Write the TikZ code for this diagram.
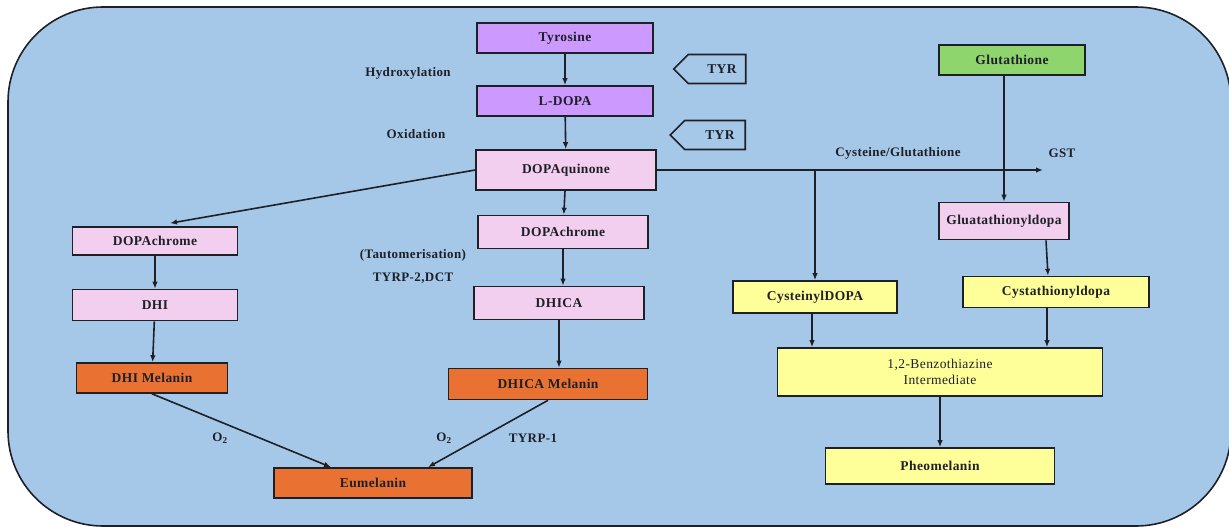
\documentclass[tikz,border=0pt]{standalone}
\usepackage{fontspec}
\setmainfont{Liberation Serif}[LetterSpace=3]
\usetikzlibrary{calc,arrows.meta,shapes.symbols}
\usetikzlibrary{positioning}

\definecolor{bgblue}{RGB}{166,200,232}
\definecolor{boxpurple}{RGB}{204,153,255}
\definecolor{boxpink}{RGB}{242,206,239}
\definecolor{boxorange}{RGB}{233,113,50}
\definecolor{boxgreen}{RGB}{142,213,110}
\definecolor{boxyellow}{RGB}{255,255,153}
\definecolor{inkdark}{RGB}{30,32,40}

\begin{document}
\begin{tikzpicture}[x=1pt,y=-1pt,
    basebox/.style={rectangle, draw=inkdark, line width=1.6pt, text=inkdark, font=\fontsize{13.5}{15}\selectfont\bfseries, inner sep=0pt},
    purplenode/.style={basebox, fill=boxpurple},
    pinknode/.style={basebox, fill=boxpink},
    orangenode/.style={basebox, fill=boxorange},
    greennode/.style={basebox, fill=boxgreen},
    yellownode/.style={basebox, fill=boxyellow},
    tyrnode/.style={signal, signal to=west, signal pointer angle=90, draw=inkdark, line width=1.6pt, fill=bgblue, text=inkdark, font=\fontsize{13.5}{15}\selectfont\bfseries, minimum width=72pt, minimum height=29pt, inner sep=0pt},
    steptext/.style={text=inkdark, font=\fontsize{13}{15}\selectfont\bfseries, inner sep=1pt},
    flow/.style={-{Latex[length=7pt,width=5.5pt]}, line width=1.6pt, draw=inkdark}]
            \useasboundingbox (0,0) rectangle (1229,527);
            \clip (0,0) rectangle (1229,527);
            \fill[bgblue, draw=inkdark, line width=1.6pt, rounded corners=95pt] (8,7) rectangle (1231,526);
            % tyrosine -> dopaquinone
            \node[purplenode, minimum width=176pt, minimum height=30pt] (tyrosine)    at (565,38)  {Tyrosine};
            \node[purplenode, minimum width=176pt, minimum height=30pt] (ldopa)       at (565,101) {L-DOPA};
            \node[pinknode,   minimum width=180pt, minimum height=40pt] (dopaquinone) at (566,170) {DOPAquinone};
            \node[tyrnode] (tyrA) at (717,69)  {\hspace{10pt}TYR};
            \node[tyrnode, minimum width=75pt] (tyrB) at (715,135) {\hspace{10pt}TYR};
            \node[steptext] (hydrox) at (408,73)  {Hydroxylation};
            \node[steptext] (oxid)   at (416,134) {Oxidation};
            % DHI branch
            \node[pinknode,   minimum width=165pt, minimum height=28pt] (dopachromeL) at (155,241) {DOPAchrome};
            \node[pinknode,   minimum width=165pt, minimum height=31pt] (dhi)         at (155,305) {DHI};
            \node[orangenode, minimum width=151pt, minimum height=30pt] (dhimelanin)  at (152,378) {DHI Melanin};
            \node[orangenode, minimum width=198pt, minimum height=30pt] (eumelanin)   at (373,483) {Eumelanin};
            % DHICA branch
            \node[pinknode,   minimum width=170pt, minimum height=33pt] (dopachromeM) at (563,232) {DOPAchrome};
            \node[pinknode,   minimum width=170pt, minimum height=33pt] (dhica)       at (559,303) {DHICA};
            \node[orangenode, minimum width=199pt, minimum height=31pt] (dhicamelanin) at (548,384) {DHICA Melanin};
            \node[steptext] (tauto) at (413,255) {(Tautomerisation)};
            \node[steptext] (tyrptwo) at (413,278) {TYRP-2,DCT};
            \node[steptext] (oxleft) at (220,438) {O\textsubscript{2}};
            \node[steptext] (oxmid)  at (444,438) {O\textsubscript{2}};
            \node[steptext] (tyrpone) at (533,438) {TYRP-1};
            % pheomelanin side
            \node[greennode,  minimum width=146pt, minimum height=30pt] (glutathione)  at (1012,60)  {Glutathione};
            \node[pinknode,   minimum width=130pt, minimum height=37pt] (gluatathionyl) at (1004,221) {Gluatathionyldopa};
            \node[yellownode, minimum width=164pt, minimum height=32pt] (cysteinyl)    at (815,297)  {CysteinylDOPA};
            \node[yellownode, minimum width=186pt, minimum height=31pt] (cystathionyl) at (1056,292) {Cystathionyldopa};
            \node[yellownode, minimum width=325pt, minimum height=48pt, font=\fontsize{13.5}{16}\selectfont, align=center] (benzo) at (940,372) {1,2-Benzothiazine\\Intermediate};
            \node[yellownode, minimum width=229pt, minimum height=36pt] (pheomelanin)  at (940,466)  {Pheomelanin};
            \node[steptext] (cysglu) at (898,153) {Cysteine/Glutathione};
            \node[steptext] (gst)    at (1062,153) {GST};
            \coordinate (branch) at (dopaquinone.east -| cysteinyl.north);
            \coordinate (gstend) at (1043,0 |- dopaquinone.east);

            \draw[flow] (tyrosine) -- (ldopa);
            \draw[flow] (ldopa) -- (dopaquinone);
            \draw[flow] (dopaquinone.west) -- ($(dopachromeL.north)+(15,-3)$);
            \draw[flow] (dopaquinone) -- (dopachromeM);
            \draw[flow] (dopachromeL) -- (dhi);
            \draw[flow] (dhi) -- (dhimelanin);
            \draw[flow] (dhimelanin.south) -- ($(eumelanin.north)+(-42,0)$);
            \draw[flow] (dopachromeM) -- (dopachromeM |- dhica.north);
            \draw[flow] (dhica) -- (dhica |- dhicamelanin.north);
            \draw[flow] (dhicamelanin.south) -- ($(eumelanin.north)+(55,0)$);
            \draw[flow] (dopaquinone.east) -- (gstend);
            \draw[flow] (branch) -- (cysteinyl.north);
            \draw[flow] (glutathione.south -| gluatathionyl.north) -- (gluatathionyl.north);
            \draw[flow] ($(gluatathionyl.south)+(42,0)$) -- ($(cystathionyl.north)+(-8,0)$);
            \draw[flow] ($(cysteinyl.south)+(-3,0)$) -- (812,0 |- benzo.north);
            \draw[flow] (1047,0 |- cystathionyl.south) -- (1047,0 |- benzo.north);
            \draw[flow] (benzo) -- (pheomelanin);
        \end{tikzpicture}
\end{document}
